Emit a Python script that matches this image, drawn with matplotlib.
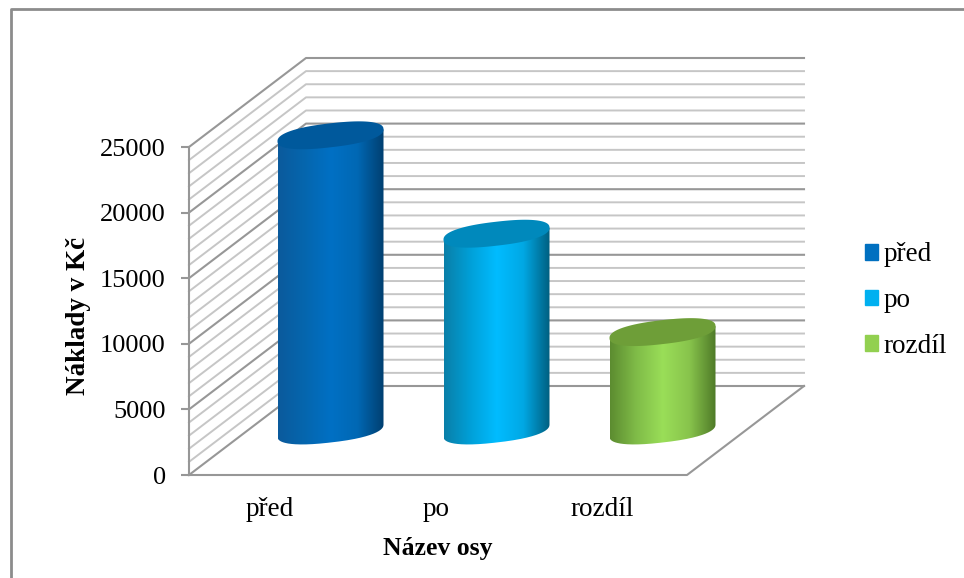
import numpy as np
from matplotlib import pyplot as plt
from matplotlib.colors import LinearSegmentedColormap
from matplotlib.lines import Line2D
from matplotlib.patches import Patch, PathPatch
from matplotlib.path import Path

categories = ["před", "po", "rozdíl"]
values = [22500, 15000, 7500]
body_colors = [
    ["#0b5a9c", "#0566ae", "#0070c4", "#0068b4", "#003f70"],
    ["#0a7fa8", "#00a0d8", "#00bcff", "#00a8e4", "#005f80"],
    ["#5c8c30", "#80bc48", "#9ade58", "#88c44c", "#4f7a28"],
]
top_colors = ["#00599c", "#0089bc", "#6e9e38"]
legend_colors = ["#0070c0", "#00b0f0", "#92d050"]

W, H = 964, 578
# front plane of the box in pixels
left, right, bottom, top = 189, 687, 475, 147
ymax = 25000
px_x = 3 / (right - left)
px_y = ymax / (bottom - top)
depth_x = 117 * px_x
depth_y = 89 * px_y

plt.rcParams["font.family"] = ["Liberation Serif", "DejaVu Serif"]
fig = plt.figure(figsize=(W / 100, H / 100), dpi=100)
ax = fig.add_axes([left / W, 1 - bottom / H, (right - left) / W, (bottom - top) / H])
ax.patch.set_alpha(0)
for s in ax.spines.values():
    s.set_visible(False)

# outer frame only shows on the top and left
fig.add_artist(Line2D([11 / W, 11 / W, 1], [0, 1 - 9 / H, 1 - 9 / H], transform=fig.transFigure,
                      color="#8c8c8c", lw=2))

minor = "#c6c6c6"
major = "#979797"
for v in range(0, ymax + 1, 1000):
    c = major if v % 5000 == 0 else minor
    lw = 1.5 if v % 5000 == 0 else 1.4
    ax.plot([0, depth_x, 3 + depth_x], [v, v + depth_y, v + depth_y], color=c, lw=lw, clip_on=False, zorder=1)
ax.plot([0, 0], [0, ymax], color=major, lw=1.5, clip_on=False, zorder=2)
ax.plot([0, 3, 3 + depth_x], [0, 0, depth_y], color=major, lw=1.5, clip_on=False, zorder=2)

# cylinder ends: fat sheared ellipse, sits in the middle of the depth
half_w = 53 * px_x
half_h = 12 * px_y
shear = 6 * px_y / half_w
p = 0.85


def cap(t):
    x = half_w * np.sign(np.cos(t)) * np.abs(np.cos(t)) ** p
    y = half_h * np.sign(np.sin(t)) * np.abs(np.sin(t)) ** p + shear * x
    return x, y


t = np.linspace(0, 2 * np.pi, 300)
for i, v in enumerate(values):
    cx = i + 0.5 + depth_x / 2
    y0 = depth_y / 2
    y1 = v + depth_y / 2
    bx, by = cap(np.linspace(np.pi, 2 * np.pi, 150))
    pts = np.column_stack([cx + bx, y0 + by])
    body = np.vstack([pts, [[cx + half_w, y1 + shear * half_w], [cx - half_w, y1 - shear * half_w]], pts[:1]])
    im = ax.imshow(np.linspace(0, 1, 256).reshape(1, -1), aspect="auto", origin="lower",
                   extent=[cx - half_w, cx + half_w, y0 - 2 * half_h, y1 + 2 * half_h],
                   cmap=LinearSegmentedColormap.from_list("c%d" % i, body_colors[i]), zorder=3)
    clip = PathPatch(Path(body), transform=ax.transData, fc="none", ec="none")
    ax.add_patch(clip)
    im.set_clip_path(clip)
    im.set_clip_box(fig.bbox)
    tx, ty = cap(t)
    ax.fill(cx + tx, y1 + ty, color=top_colors[i], lw=0, zorder=4, clip_on=False)

ax.set_xlim(0, 3)
ax.set_ylim(0, ymax)
ax.set_xticks([0.5 - 2 * px_x, 1.5 - 2 * px_x, 2.5 - 2 * px_x])
ax.set_xticklabels(categories)
ax.set_yticks(range(0, ymax + 1, 5000))
ax.tick_params(axis="y", length=5.8, width=1.5, color=major, labelsize=19, pad=11)
ax.tick_params(axis="x", length=0, labelsize=19.5, pad=16)
ax.set_ylabel("Náklady v Kč", fontsize=19.5, fontweight="bold")
ax.yaxis.set_label_coords((91 - left) / (right - left), (bottom - 316) / (bottom - top))
ax.set_xlabel("Název osy", fontsize=18.5, fontweight="bold", labelpad=10.5)

handles = [Patch(color=c) for c in legend_colors]
fig.legend(handles, categories, loc="upper left", bbox_to_anchor=(865 / W, 1 - 242.5 / H), frameon=False,
           fontsize=19.5, handlelength=0.48, handleheight=0.5, handletextpad=0.2, labelspacing=0.76,
           borderpad=0, borderaxespad=0)

plt.savefig("out.png", dpi=100)
